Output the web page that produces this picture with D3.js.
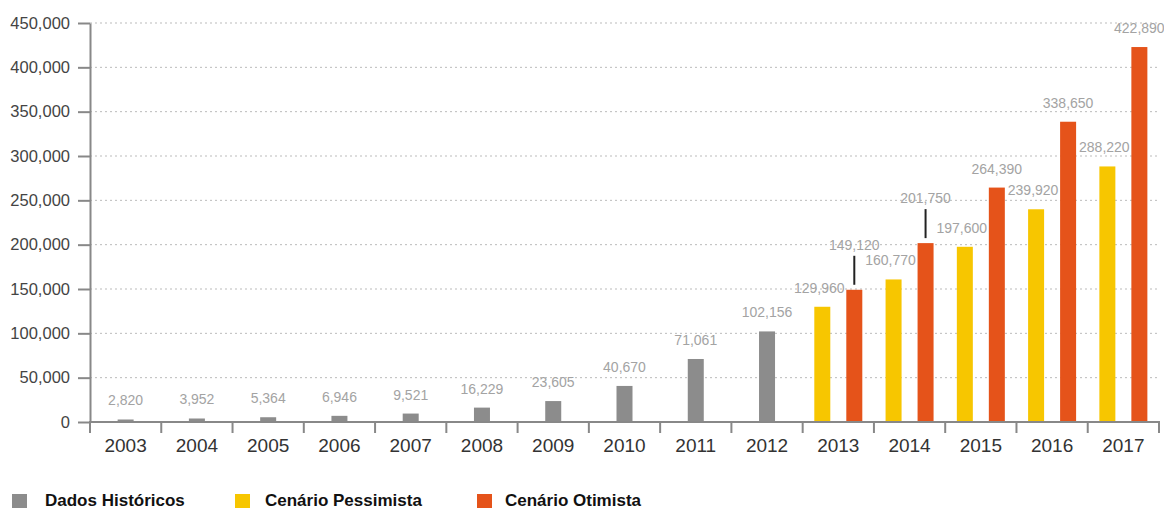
<!DOCTYPE html>
<meta charset="utf-8">
<style>
    body { margin: 0; background: #fff; }
    text { font-family: 'Liberation Sans', Arial, sans-serif; }
    .grid line { stroke: #bbb; stroke-dasharray: 2, 3; }
    .axis path, .axis line { stroke: #888; stroke-width: 2; }
    .val { fill: #a3a3a3; font-size: 14px; }
</style>
<svg width="1164" height="510"></svg>
<script src="https://cdn.jsdelivr.net/npm/d3@7"></script>
<script>
    var years = ["2003", "2004", "2005", "2006", "2007", "2008", "2009", "2010", "2011", "2012", "2013", "2014", "2015", "2016", "2017"];
    var historico = [2820, 3952, 5364, 6946, 9521, 16229, 23605, 40670, 71061, 102156];
    var pessimista = [129960, 160770, 197600, 239920, 288220];
    var otimista = [149120, 201750, 264390, 338650, 422890];
    var yTicks = [0, 50000, 100000, 150000, 200000, 250000, 300000, 350000, 400000, 450000];
    // labels drawn higher with a small pointer line
    var leaderLabels = [149120, 201750];

    var colors = { hist: "#8c8c8c", pess: "#f7c600", otim: "#e5531a" };

    var svg = d3.select("svg"),
        mLeft = 90, mRight = 1159, mTop = 23, mBottom = 422;

    var x = d3.scaleBand().domain(years).range([mLeft, mRight]);
    var y = d3.scaleLinear().domain([0, 450000]).range([mBottom, mTop]);
    var fmt = d3.format(",");

    // grid
    svg.append("g").attr("class", "grid")
        .selectAll("line")
        .data(yTicks.slice(1))
        .enter().append("line")
        .attr("x1", mLeft).attr("x2", mRight)
        .attr("y1", function (d) { return y(d); })
        .attr("y2", function (d) { return y(d); });

    // bars
    var bars = [];
    historico.forEach(function (v, i) { bars.push({ year: years[i], value: v, dx: 0, color: colors.hist }); });
    pessimista.forEach(function (v, i) { bars.push({ year: years[10 + i], value: v, dx: -16, color: colors.pess }); });
    otimista.forEach(function (v, i) { bars.push({ year: years[10 + i], value: v, dx: 16, color: colors.otim }); });

    var bw = 16;
    svg.append("g").selectAll("rect")
        .data(bars)
        .enter().append("rect")
        .attr("x", function (d) { return x(d.year) + x.bandwidth() / 2 + d.dx - bw / 2; })
        .attr("y", function (d) { return y(d.value); })
        .attr("width", bw)
        .attr("height", function (d) { return mBottom - y(d.value); })
        .attr("fill", function (d) { return d.color; });

    svg.append("g").selectAll("text")
        .data(bars)
        .enter().append("text")
        .attr("class", "val")
        .attr("text-anchor", "middle")
        .attr("x", function (d) { return x(d.year) + x.bandwidth() / 2 + d.dx - (d.dx < 0 ? 3 : 0); })
        .attr("y", function (d) {
            var off = leaderLabels.indexOf(d.value) >= 0 ? 40 : 14;
            return y(d.value) - off;
        })
        .text(function (d) { return fmt(d.value); });

    svg.append("g").selectAll("line")
        .data(bars.filter(function (d) { return leaderLabels.indexOf(d.value) >= 0; }))
        .enter().append("line")
        .attr("x1", function (d) { return x(d.year) + x.bandwidth() / 2 + d.dx; })
        .attr("x2", function (d) { return x(d.year) + x.bandwidth() / 2 + d.dx; })
        .attr("y1", function (d) { return y(d.value) - 5; })
        .attr("y2", function (d) { return y(d.value) - 34; })
        .attr("stroke", "#222").attr("stroke-width", 2);

    // y axis
    svg.append("g").attr("class", "axis")
        .attr("transform", "translate(" + mLeft + ",0)")
        .call(d3.axisLeft(y).tickValues(yTicks).tickSize(12).tickPadding(8).tickFormat(fmt).tickSizeOuter(0))
        .call(function (g) {
            g.selectAll("text").attr("font-size", 16.5).attr("fill", "#444").attr("font-family", null);
        });

    // x axis
    var xa = svg.append("g").attr("class", "axis")
        .attr("transform", "translate(0," + mBottom + ")");
    xa.append("line").attr("x1", mLeft - 1).attr("x2", mRight + 1);
    xa.selectAll(".sep")
        .data(years.concat(["end"]))
        .enter().append("line")
        .attr("class", "sep")
        .attr("x1", function (d, i) { return mLeft + i * x.bandwidth(); })
        .attr("x2", function (d, i) { return mLeft + i * x.bandwidth(); })
        .attr("y1", 0).attr("y2", 11);
    xa.selectAll("text")
        .data(years)
        .enter().append("text")
        .attr("x", function (d) { return x(d) + x.bandwidth() / 2; })
        .attr("y", 30)
        .attr("text-anchor", "middle")
        .attr("font-size", 19)
        .attr("fill", "#333")
        .text(function (d) { return d; });

    // legend
    var legend = [
        { label: "Dados Históricos", color: colors.hist, x: 12, tx: 45 },
        { label: "Cenário Pessimista", color: colors.pess, x: 235, tx: 265 },
        { label: "Cenário Otimista", color: colors.otim, x: 477, tx: 505 }
    ];
    var lg = svg.append("g").selectAll("g").data(legend).enter().append("g");
    lg.append("rect")
        .attr("x", function (d) { return d.x; }).attr("y", 494)
        .attr("width", 15).attr("height", 14)
        .attr("fill", function (d) { return d.color; });
    lg.append("text")
        .attr("x", function (d) { return d.tx; }).attr("y", 506)
        .attr("font-size", 17).attr("font-weight", "bold").attr("fill", "#111")
        .text(function (d) { return d.label; });
</script>
